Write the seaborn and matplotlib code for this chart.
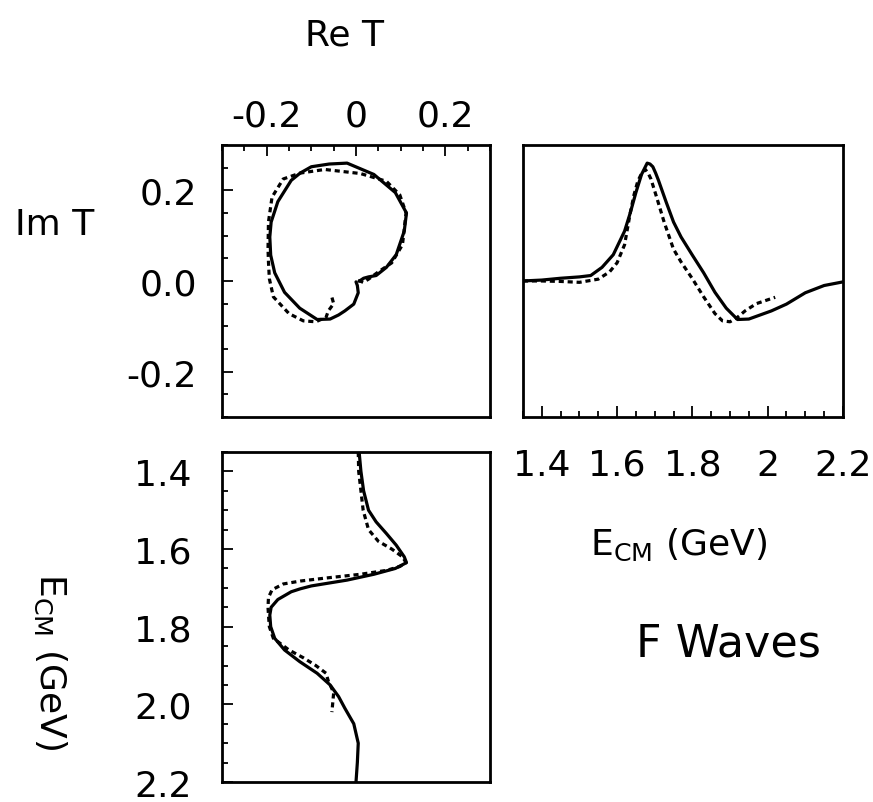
import numpy as np
import seaborn as sns
import matplotlib
matplotlib.use('Agg')
import matplotlib.pyplot as plt
from matplotlib.ticker import MultipleLocator, FixedLocator

# solid curve: energy (GeV), Re T, Im T
e_solid = [1.35, 1.40, 1.45, 1.50, 1.53, 1.56, 1.59, 1.62, 1.635, 1.65, 1.665, 1.68, 1.6875,
           1.695, 1.7025, 1.71, 1.73, 1.75, 1.77, 1.80, 1.83, 1.86, 1.89, 1.92, 1.95, 1.98,
           2.01, 2.05, 2.10, 2.15, 2.20]
re_solid = [0.007, 0.011, 0.017, 0.028, 0.045, 0.068, 0.090, 0.108, 0.113, 0.088, 0.040, -0.020, -0.060,
            -0.100, -0.125, -0.145, -0.175, -0.190, -0.193, -0.191, -0.182, -0.160, -0.126, -0.087, -0.058, -0.039,
            -0.025, -0.005, 0.005, 0.003, 0.000]
im_solid = [0.000, 0.002, 0.006, 0.009, 0.012, 0.030, 0.058, 0.110, 0.150, 0.195, 0.235, 0.260, 0.258,
            0.252, 0.238, 0.222, 0.175, 0.130, 0.097, 0.057, 0.018, -0.025, -0.060, -0.085, -0.084, -0.075,
            -0.066, -0.051, -0.026, -0.010, -0.002]

# dashed curve
e_dash = [1.35, 1.40, 1.45, 1.50, 1.55, 1.58, 1.60, 1.62, 1.635, 1.645, 1.655, 1.665, 1.675, 1.6825,
          1.69, 1.705, 1.725, 1.75, 1.77, 1.80, 1.83, 1.86, 1.88, 1.90, 1.92, 1.94, 1.97, 2.02]
re_dash = [0.005, 0.006, 0.011, 0.016, 0.028, 0.050, 0.080, 0.104, 0.112, 0.098, 0.068, 0.010, -0.070, -0.125,
           -0.163, -0.188, -0.196, -0.197, -0.196, -0.194, -0.185, -0.150, -0.118, -0.090, -0.067, -0.062, -0.050, -0.054]
im_dash = [0.000, 0.000, -0.001, -0.003, 0.004, 0.020, 0.040, 0.080, 0.150, 0.190, 0.220, 0.237, 0.246, 0.238,
           0.225, 0.185, 0.130, 0.070, 0.042, 0.005, -0.035, -0.072, -0.088, -0.090, -0.080, -0.066, -0.050, -0.036]

re_ticks = [-0.2, 0.0, 0.2]
re_labels = ['-0.2', '0', '0.2']
im_ticks = [0.2, 0.0, -0.2]
im_labels = ['0.2', '0.0', '-0.2']
e_ticks = [1.4, 1.6, 1.8, 2.0, 2.2]
e_labels_x = ['1.4', '1.6', '1.8', '2', '2.2']
e_labels_y = ['1.4', '1.6', '1.8', '2.0', '2.2']

sns.set_style('ticks')
plt.rcParams['font.family'] = ['DejaVu Sans']
plt.rcParams['text.color'] = 'black'
plt.rcParams['xtick.color'] = 'black'
plt.rcParams['ytick.color'] = 'black'
plt.rcParams['axes.edgecolor'] = 'black'
plt.rcParams['axes.linewidth'] = 2.0

fig = plt.figure(figsize=(8.73, 8.03), dpi=100)
ax_arg = fig.add_axes([0.2543, 0.4795, 0.307, 0.3387])
ax_im = fig.add_axes([0.599, 0.4795, 0.3666, 0.3387])
ax_re = fig.add_axes([0.2543, 0.0249, 0.307, 0.411])

lw = 2.3
dash = (0, (1.6, 1.2))
fs = 26

# Argand diagram
sns.lineplot(x=re_solid, y=im_solid, sort=False, estimator=None, color='black', linewidth=lw, ax=ax_arg)
sns.lineplot(x=re_dash, y=im_dash, sort=False, estimator=None, color='black', linewidth=lw,
             linestyle=dash, ax=ax_arg)
ax_arg.set_xlim(-0.3, 0.3)
ax_arg.set_ylim(-0.3, 0.3)
ax_arg.xaxis.tick_top()
ax_arg.xaxis.set_major_locator(FixedLocator(re_ticks))
ax_arg.set_xticklabels(re_labels)
ax_arg.yaxis.set_major_locator(FixedLocator(im_ticks))
ax_arg.set_yticklabels(im_labels)
ax_arg.xaxis.set_minor_locator(MultipleLocator(0.05))
ax_arg.yaxis.set_minor_locator(MultipleLocator(0.05))
ax_arg.tick_params(which='both', direction='in', top=True, bottom=False, left=True, right=False,
                   labeltop=True, labelbottom=False, width=1.3)
ax_arg.tick_params(axis='x', which='major', length=8, pad=9, labelsize=fs)
ax_arg.tick_params(axis='y', which='major', length=8, pad=18, labelsize=fs)
ax_arg.tick_params(which='minor', length=4)

# Im T versus energy
sns.lineplot(x=e_solid, y=im_solid, estimator=None, color='black', linewidth=lw, ax=ax_im)
sns.lineplot(x=e_dash, y=im_dash, estimator=None, color='black', linewidth=lw,
             linestyle=dash, ax=ax_im)
ax_im.set_xlim(1.35, 2.2)
ax_im.set_ylim(-0.3, 0.3)
ax_im.xaxis.set_major_locator(FixedLocator(e_ticks))
ax_im.set_xticklabels(e_labels_x)
ax_im.xaxis.set_minor_locator(MultipleLocator(0.05))
ax_im.set_yticks([])
ax_im.tick_params(which='both', direction='in', top=False, bottom=True, left=False, right=False, width=1.3)
ax_im.tick_params(axis='x', which='major', length=8, pad=22, labelsize=fs)
ax_im.tick_params(which='minor', length=4)

# Re T versus energy (energy running downward)
sns.lineplot(x=re_solid, y=e_solid, sort=False, estimator=None, color='black', linewidth=lw, ax=ax_re)
sns.lineplot(x=re_dash, y=e_dash, sort=False, estimator=None, color='black', linewidth=lw,
             linestyle=dash, ax=ax_re)
ax_re.set_xlim(-0.3, 0.3)
ax_re.set_ylim(2.2, 1.35)
ax_re.set_xticks([])
ax_re.yaxis.set_major_locator(FixedLocator(e_ticks))
ax_re.set_yticklabels(e_labels_y)
ax_re.yaxis.set_minor_locator(MultipleLocator(0.05))
ax_re.tick_params(which='both', direction='in', top=False, bottom=False, left=True, right=False, width=1.3)
ax_re.tick_params(axis='y', which='major', length=8, pad=22, labelsize=fs)
ax_re.tick_params(which='minor', length=4)

for ax in (ax_arg, ax_im, ax_re):
    ax.set_xlabel('')
    ax.set_ylabel('')
    for s in ax.spines.values():
        s.set_visible(True)
        s.set_linewidth(2.0)
        s.set_color('black')

fig.text(0.395, 0.956, 'Re T', fontsize=fs, ha='center', va='center')
fig.text(0.063, 0.72, 'Im T', fontsize=fs, ha='center', va='center')
fig.text(0.057, 0.176, r'E$_{\rm CM}$ (GeV)', fontsize=fs, ha='center', va='center', rotation=-90)
fig.text(0.676, 0.309, r'E$_{\rm CM}$ (GeV)', fontsize=fs, ha='left', va='baseline')
fig.text(0.729, 0.182, 'F Waves', fontsize=32, ha='left', va='baseline')

fig.savefig('out.png', dpi=100, facecolor='white')
